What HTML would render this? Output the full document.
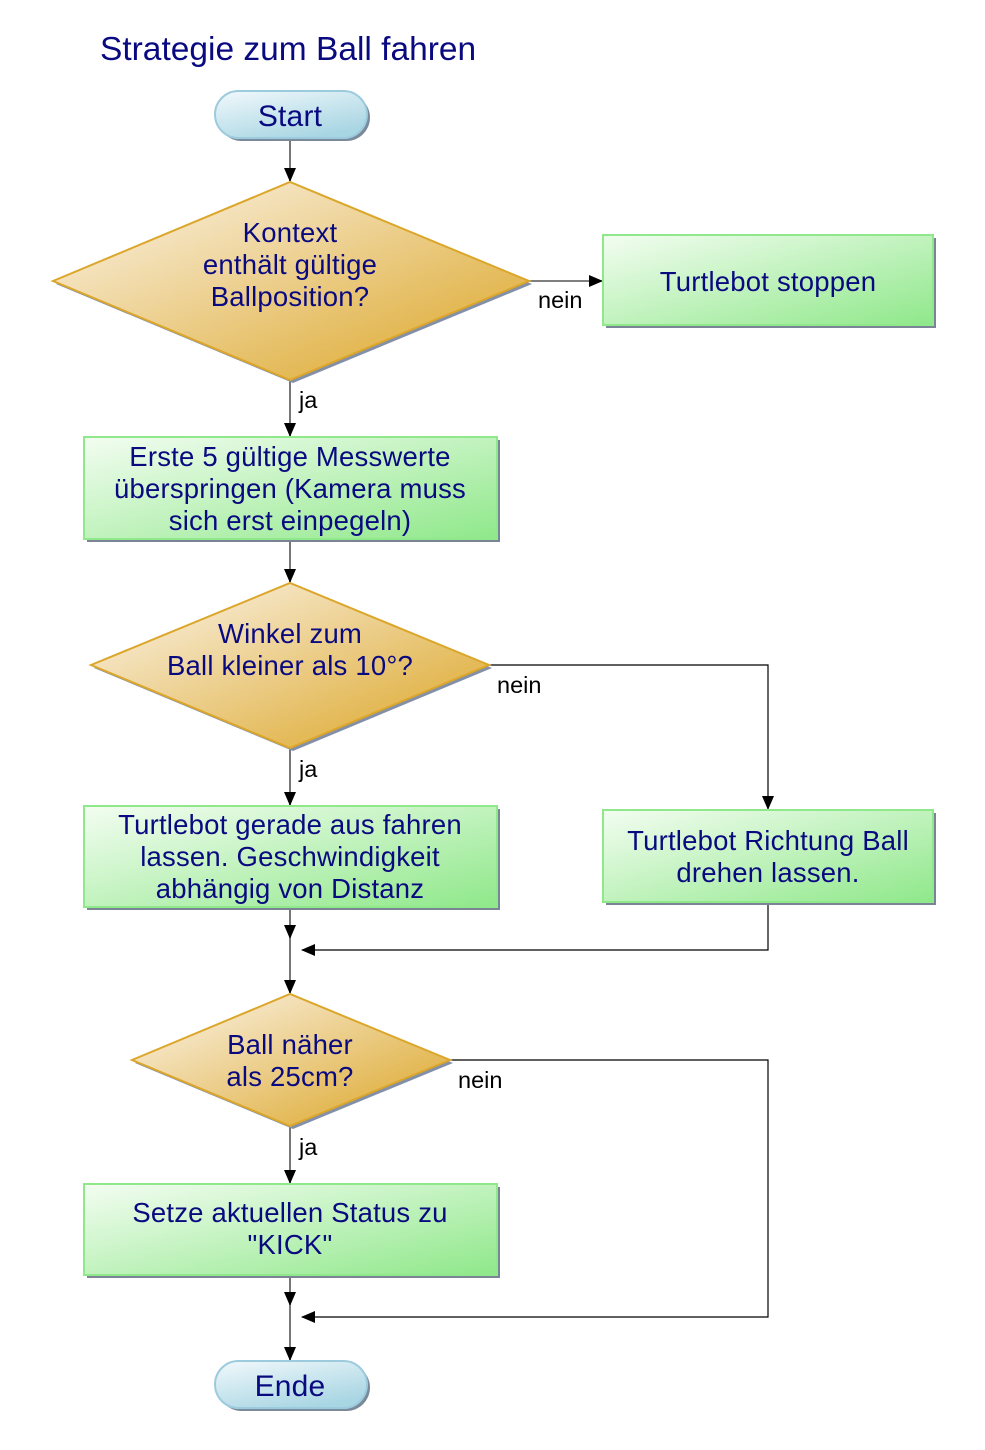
<!DOCTYPE html>
<html><head><meta charset="utf-8"><style>
html,body{margin:0;padding:0;background:#fff;}
svg{display:block;}
text{font-family:"Liberation Sans",Arial,sans-serif;fill:#0a0a80;}
.l{font-size:23.5px;fill:#000;}
.t{font-size:27.5px;text-anchor:middle;letter-spacing:0.2px;}
</style></head><body>
<svg width="985" height="1450" viewBox="0 0 985 1450" xmlns="http://www.w3.org/2000/svg">
<defs>
<linearGradient id="g" x1="0" y1="0" x2="1" y2="1"><stop offset="0" stop-color="#f3fdf1"/><stop offset="1" stop-color="#8fe88a"/></linearGradient>
<linearGradient id="d" x1="0" y1="0" x2="1" y2="1"><stop offset="0.15" stop-color="#f7ead0"/><stop offset="0.85" stop-color="#e0b040"/></linearGradient>
<linearGradient id="b" x1="0" y1="0" x2="0.6" y2="1"><stop offset="0" stop-color="#f2f9fc"/><stop offset="1" stop-color="#a9d6e3"/></linearGradient>
<marker id="a" markerWidth="14" markerHeight="14" refX="13" refY="7" orient="auto" markerUnits="userSpaceOnUse"><path d="M0,1 L14,7 L0,13 Z" fill="#000"/></marker>
</defs>
<text x="100" y="60" style="font-size:33.5px">Strategie zum Ball fahren</text>

<g stroke-width="2" fill="none">
<line x1="290" y1="138" x2="290" y2="181" stroke="#777" marker-end="url(#a)"/>
<line x1="529" y1="281" x2="602" y2="281" stroke="#555" stroke-width="1.5" marker-end="url(#a)"/>
<line x1="290" y1="380" x2="290" y2="436" stroke="#777" marker-end="url(#a)"/>
<line x1="290" y1="540" x2="290" y2="582" stroke="#777" marker-end="url(#a)"/>
<polyline points="489,665 768,665 768,809" stroke="#000" stroke-width="1.2" marker-end="url(#a)"/>
<line x1="290" y1="748" x2="290" y2="805" stroke="#777" marker-end="url(#a)"/>
<line x1="290" y1="908" x2="290" y2="938" stroke="#777" marker-end="url(#a)"/>
<line x1="290" y1="938" x2="290" y2="993" stroke="#777" marker-end="url(#a)"/>
<polyline points="768,903 768,950 302,950" stroke="#000" stroke-width="1.2" marker-end="url(#a)"/>
<polyline points="450,1060 768,1060 768,1317 302,1317" stroke="#000" stroke-width="1.2" marker-end="url(#a)"/>
<line x1="290" y1="1126" x2="290" y2="1183" stroke="#777" marker-end="url(#a)"/>
<line x1="290" y1="1276" x2="290" y2="1305" stroke="#777" marker-end="url(#a)"/>
<line x1="290" y1="1305" x2="290" y2="1360" stroke="#777" marker-end="url(#a)"/>
</g>

<rect x="218" y="94" width="152" height="47" rx="23.5" fill="#7a8a9a"/>
<rect x="215" y="91" width="152" height="47" rx="23.5" fill="url(#b)" stroke="#9ccbdd" stroke-width="2"/>
<text class="t" x="290" y="126" style="font-size:30px">Start</text>

<polygon points="56,284 293,185 532,284 293,383" fill="#8390a8"/>
<polygon points="53,281 290,182 529,281 290,380" fill="url(#d)" stroke="#dba629" stroke-width="2"/>
<text class="t" x="290" y="242">Kontext</text>
<text class="t" x="290" y="274">enthält gültige</text>
<text class="t" x="290" y="306">Ballposition?</text>
<text class="l" x="538" y="308">nein</text>

<rect x="606" y="238" width="330" height="90" fill="#7a8496"/>
<rect x="603" y="235" width="330" height="90" fill="url(#g)" stroke="#8fe88a" stroke-width="2"/>
<text class="t" x="768" y="291">Turtlebot stoppen</text>

<text class="l" x="299" y="408">ja</text>

<rect x="87" y="440" width="413" height="102" fill="#7a8496"/>
<rect x="84" y="437" width="413" height="102" fill="url(#g)" stroke="#8fe88a" stroke-width="2"/>
<text class="t" x="290" y="466">Erste 5 gültige Messwerte</text>
<text class="t" x="290" y="498">überspringen (Kamera muss</text>
<text class="t" x="290" y="530">sich erst einpegeln)</text>

<polygon points="94,668 293,586 492,668 293,751" fill="#8390a8"/>
<polygon points="91,665 290,583 489,665 290,748" fill="url(#d)" stroke="#dba629" stroke-width="2"/>
<text class="t" x="290" y="643">Winkel zum</text>
<text class="t" x="290" y="675">Ball kleiner als 10°?</text>
<text class="l" x="497" y="693">nein</text>
<text class="l" x="299" y="777">ja</text>

<rect x="87" y="809" width="413" height="101" fill="#7a8496"/>
<rect x="84" y="806" width="413" height="101" fill="url(#g)" stroke="#8fe88a" stroke-width="2"/>
<text class="t" x="290" y="834">Turtlebot gerade aus fahren</text>
<text class="t" x="290" y="866">lassen. Geschwindigkeit</text>
<text class="t" x="290" y="898">abhängig von Distanz</text>

<rect x="606" y="813" width="330" height="92" fill="#7a8496"/>
<rect x="603" y="810" width="330" height="92" fill="url(#g)" stroke="#8fe88a" stroke-width="2"/>
<text class="t" x="768" y="850">Turtlebot Richtung Ball</text>
<text class="t" x="768" y="882">drehen lassen.</text>

<polygon points="135,1063 293,997 453,1063 293,1129" fill="#8390a8"/>
<polygon points="132,1060 290,994 450,1060 290,1126" fill="url(#d)" stroke="#dba629" stroke-width="2"/>
<text class="t" x="290" y="1054">Ball näher</text>
<text class="t" x="290" y="1086">als 25cm?</text>
<text class="l" x="458" y="1088">nein</text>
<text class="l" x="299" y="1155">ja</text>

<rect x="87" y="1187" width="413" height="91" fill="#7a8496"/>
<rect x="84" y="1184" width="413" height="91" fill="url(#g)" stroke="#8fe88a" stroke-width="2"/>
<text class="t" x="290" y="1222">Setze aktuellen Status zu</text>
<text class="t" x="290" y="1254">"KICK"</text>

<rect x="218" y="1364" width="152" height="47" rx="23.5" fill="#7a8a9a"/>
<rect x="215" y="1361" width="152" height="47" rx="23.5" fill="url(#b)" stroke="#9ccbdd" stroke-width="2"/>
<text class="t" x="290" y="1396" style="font-size:30px">Ende</text>
</svg>
</body></html>
